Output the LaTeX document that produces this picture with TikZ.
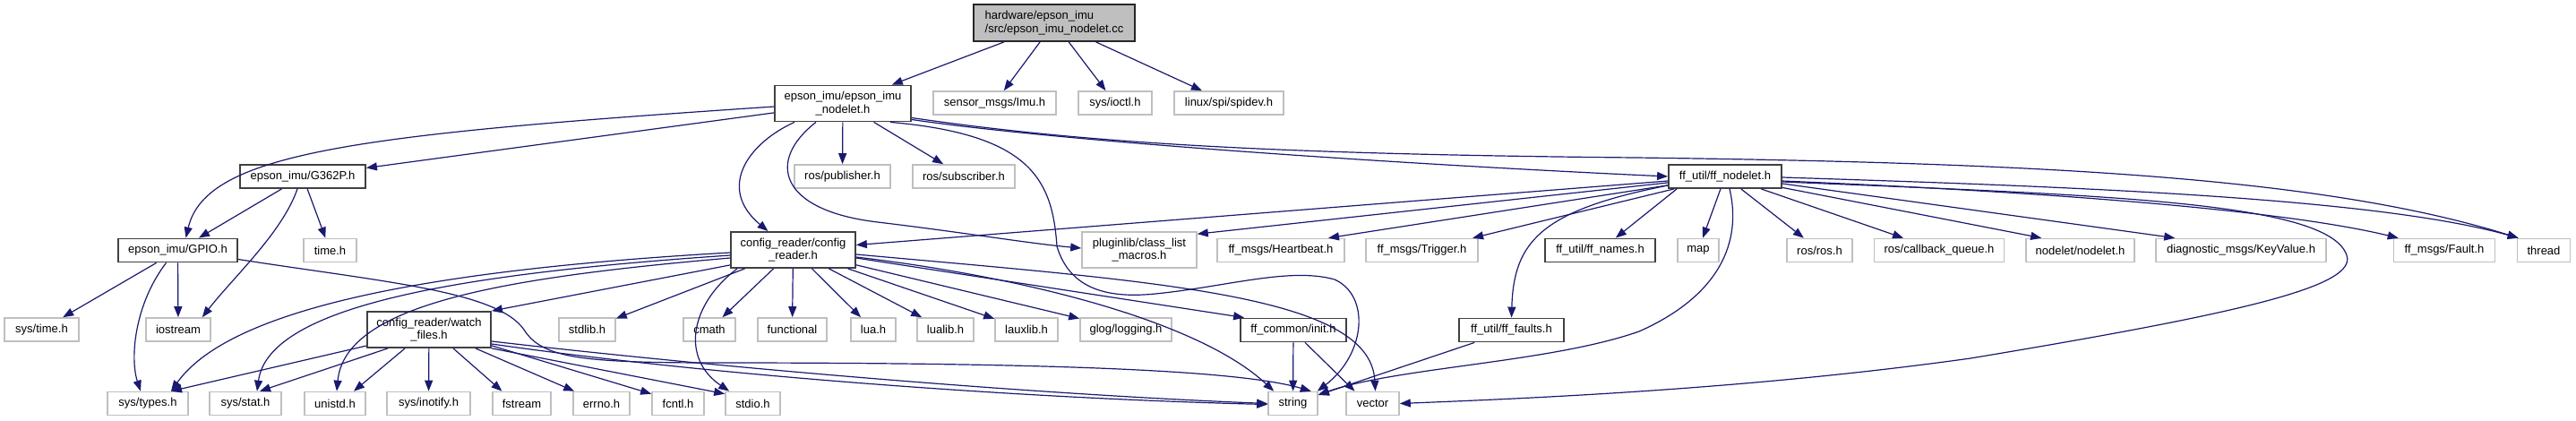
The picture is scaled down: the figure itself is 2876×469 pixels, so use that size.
\documentclass[tikz,border=0pt]{standalone}
\usepackage{fontspec}
\setmainfont{Liberation Sans}
\usetikzlibrary{arrows.meta,calc}
\definecolor{edgec}{HTML}{191970}
\definecolor{extc}{HTML}{BFBFBF}
\definecolor{docc}{HTML}{404040}
\begin{document}
\begin{tikzpicture}[x=1pt,y=-1pt,
  every node/.style={font=\fontsize{13}{14.5}\selectfont, inner sep=0pt, minimum height=26pt, align=center},
  ext/.style={draw=extc, line width=1.6pt, fill=white},
  doc/.style={draw=docc, line width=1.8pt, fill=white},
  rootbox/.style={draw=black!85, line width=1.8pt, fill=extc},
  bw/.style={minimum width=#1pt},
  tall/.style={minimum height=40pt},
  edge/.style={draw=edgec, line width=1.2pt, -{Triangle[length=12pt,width=9pt]}},
]
\useasboundingbox (0,0) rectangle (2876,469);
% row 1
\node[rootbox,bw=180,minimum height=41pt,align=left] (root) at (1177,25.5) {hardware/epson\_imu\\/src/epson\_imu\_nodelet.cc};
% row 2
\node[doc,bw=152,tall] (nodelet) at (941,115.5) {epson\_imu/epson\_imu\\\_nodelet.h};
\node[ext,bw=137] (imu) at (1110.5,115) {sensor\_msgs/Imu.h};
\node[ext,bw=82] (ioctl) at (1245,115) {sys/ioctl.h};
\node[ext,bw=122] (spidev) at (1372,115) {linux/spi/spidev.h};
% row 3
\node[doc,bw=140] (g362p) at (338,197) {epson\_imu/G362P.h};
\node[ext,bw=107] (pub) at (940.5,197) {ros/publisher.h};
\node[ext,bw=114] (sub) at (1076,197) {ros/subscriber.h};
\node[doc,bw=126] (ffnod) at (1926,197) {ff\_util/ff\_nodelet.h};
% row 4
\node[doc,bw=133] (gpio) at (198.5,279.5) {epson\_imu/GPIO.h};
\node[ext,bw=59] (timeh) at (368.5,279.5) {time.h};
\node[doc,bw=139,tall] (config) at (885.5,279) {config\_reader/config\\\_reader.h};
\node[ext,bw=128,tall] (plugin) at (1272,279) {pluginlib/class\_list\\\_macros.h};
\node[ext,bw=142] (heart) at (1430,279.5) {ff\_msgs/Heartbeat.h};
\node[ext,bw=125] (trig) at (1587.5,279.5) {ff\_msgs/Trigger.h};
\node[doc,bw=123] (names) at (1786.5,279.5) {ff\_util/ff\_names.h};
\node[ext,bw=46] (map) at (1896,279.5) {map};
\node[ext,bw=73] (rosh) at (2031.5,279.5) {ros/ros.h};
\node[ext,bw=145] (cbq) at (2165,279.5) {ros/callback\_queue.h};
\node[ext,bw=121] (nodeleth) at (2322.5,279.5) {nodelet/nodelet.h};
\node[ext,bw=190] (diag) at (2502,279.5) {diagnostic\_msgs/KeyValue.h};
\node[ext,bw=113] (fault) at (2729,279.5) {ff\_msgs/Fault.h};
\node[ext,bw=59] (thread) at (2840,279.5) {thread};
% row 5
\node[ext,bw=83] (systime) at (46.5,368) {sys/time.h};
\node[ext,bw=72] (iostream) at (199,368) {iostream};
\node[doc,bw=138,tall] (watch) at (479,368) {config\_reader/watch\\\_files.h};
\node[ext,bw=63] (stdlib) at (655.5,368) {stdlib.h};
\node[ext,bw=58] (cmath) at (792,368) {cmath};
\node[ext,bw=77] (functional) at (884.5,368) {functional};
\node[ext,bw=50] (lua) at (975,368) {lua.h};
\node[ext,bw=63] (lualib) at (1055.5,368) {lualib.h};
\node[ext,bw=70] (lauxlib) at (1146,368) {lauxlib.h};
\node[ext,bw=102] (glog) at (1257,368) {glog/logging.h};
\node[doc,bw=118] (ffcommon) at (1444,368.5) {ff\_common/init.h};
\node[doc,bw=117] (fffaults) at (1687.5,368.5) {ff\_util/ff\_faults.h};
% row 6
\node[ext,bw=90] (systypes) at (165,450.5) {sys/types.h};
\node[ext,bw=80] (sysstat) at (274,450.5) {sys/stat.h};
\node[ext,bw=68] (unistd) at (374,450.5) {unistd.h};
\node[ext,bw=93] (inotify) at (478.5,450.5) {sys/inotify.h};
\node[ext,bw=65] (fstream) at (582.5,450.5) {fstream};
\node[ext,bw=63] (errno) at (671.5,450.5) {errno.h};
\node[ext,bw=58] (fcntl) at (757,450.5) {fcntl.h};
\node[ext,bw=61] (stdio) at (840.5,450.5) {stdio.h};
\node[ext,bw=55] (string) at (1443.5,450.5) {string};
\node[ext,bw=59] (vector) at (1532.5,450.5) {vector};

% ---- edges: root
\draw[edge] (root) -- (nodelet);
\draw[edge] (root) -- (imu);
\draw[edge] (root) -- (ioctl);
\draw[edge] (root) -- (spidev);
% ---- nodelet
\draw[edge] (nodelet) -- (g362p);
\draw[edge] ($(nodelet.west)+(0,3.5)$) .. controls (400,150) and (230,170) .. ($(gpio.north)+(9,0)$);
\draw[edge] ($(nodelet.south)+(-54,0)$) .. controls (835,160) and (800,210) .. ($(config.north)+(-28,0)$);
\draw[edge] ($(nodelet.south)+(-30,0)$) .. controls (855,180) and (870,235) .. (980,248) .. controls (1080,260) and (1150,272) .. ($(plugin.west)+(0,-2)$);
\draw[edge] (nodelet) -- (pub);
\draw[edge] (nodelet) -- (sub);
\draw[edge] ($(nodelet.south east)+(-24,0)$) .. controls (1150,150) and (1175,200) .. (1180,275) .. controls (1195,325) and (1240,333) .. (1290,328) .. controls (1370,320) and (1440,298) .. (1490,312) .. controls (1530,330) and (1525,395) .. ($(string.north east)+(-1,0)$);
\draw[edge] ($(nodelet.east)+(0,18)$) .. controls (1200,160) and (1600,185) .. (ffnod.west);
\draw[edge] ($(nodelet.east)+(0,16)$) .. controls (1200,158) and (1400,172) .. (1826,176) .. controls (2300,182) and (2600,200) .. ($(thread.north west)+(2,0)$);
% ---- G362P
\draw[edge] (g362p) -- (gpio);
\draw[edge] (g362p) -- (timeh);
\draw[edge] ($(g362p.south)+(-6,0)$) .. controls (315,260) and (260,310) .. ($(iostream.north east)+(-10,0)$);
% ---- GPIO
\draw[edge] (gpio) -- (systime);
\draw[edge] (gpio) -- (iostream);
\draw[edge] ($(gpio.south)+(-13,0)$) .. controls (150,340) and (145,400) .. ($(systypes.north)+(-8,0)$);
\draw[edge] ($(gpio.east)+(0,10)$) .. controls (430,315) and (555,325) .. (585,368) .. controls (605,400) and (650,405) .. (800,405) .. controls (1150,405) and (1380,412) .. ($(string.north east)+(-8,0)$);
% ---- watch_files
\draw[edge] ($(watch.west)+(0,18)$) -- ($(systypes.north)+(26,0)$);
\draw[edge] ($(watch.south west)+(24,0)$) -- ($(sysstat.north)+(16,0)$);
\draw[edge] ($(watch.south west)+(43,0)$) -- ($(unistd.north)+(21,0)$);
\draw[edge] (watch) -- (inotify);
\draw[edge] ($(watch.south)+(27,0)$) -- ($(fstream.north)+(-22,0)$);
\draw[edge] ($(watch.south east)+(-18,0)$) -- ($(errno.north west)+(2,0)$);
\draw[edge] ($(watch.south east)+(0,-3)$) -- ($(fcntl.north west)+(0,3)$);
\draw[edge] ($(watch.south east)+(0,0)$) -- ($(stdio.north west)+(0,3)$);
\draw[edge] ($(watch.east)+(0,13)$) .. controls (800,410) and (1150,440) .. (string.west);
\draw[edge] ($(watch.east)+(0,16)$) .. controls (800,420) and (1150,445) .. ($(string.west)+(0,1)$);
% ---- config_reader
\draw[edge] ($(config.west)+(0,3)$) .. controls (500,300) and (260,340) .. ($(systypes.north)+(26,0)$);
\draw[edge] ($(config.west)+(0,6)$) .. controls (520,305) and (300,340) .. ($(sysstat.north)+(13,0)$);
\draw[edge] ($(config.west)+(0,9)$) .. controls (560,310) and (385,340) .. ($(unistd.north)+(2,0)$);
\draw[edge] ($(config.south west)+(0,-4)$) -- (watch.north east);
\draw[edge] (config) -- (stdlib);
\draw[edge] ($(config.south west)+(8,0)$) .. controls (770,340) and (760,400) .. ($(stdio.north west)+(5,0)$);
\draw[edge] (config) -- (cmath);
\draw[edge] (config) -- (functional);
\draw[edge] (config) -- (lua);
\draw[edge] (config) -- (lualib);
\draw[edge] (config) -- (lauxlib);
\draw[edge] (config) -- (glog);
\draw[edge] ($(config.east)+(0,9)$) -- ($(ffcommon.north west)+(5,0)$);
\draw[edge] ($(config.east)+(0,8)$) .. controls (1150,310) and (1340,360) .. ($(string.north west)+(7,0)$);
\draw[edge] ($(config.east)+(0,5)$) .. controls (1300,315) and (1530,330) .. ($(vector.north)+(3,0)$);
% ---- ff_common, ff_faults
\draw[edge] (ffcommon) -- (string);
\draw[edge] ($(ffcommon.south)+(13,0)$) -- ($(vector.north)+(-20,0)$);
\draw[edge] (fffaults) -- (string);
% ---- ff_nodelet
\draw[edge] (ffnod) -- (config);
\draw[edge] (ffnod) -- ($(plugin.north east)+(0,3)$);
\draw[edge] (ffnod) -- ($(heart.north)+(53,0)$);
\draw[edge] (ffnod) -- (trig);
\draw[edge] ($(ffnod.south west)+(10,0)$) -- (names);
\draw[edge] ($(ffnod.west)+(0,10)$) .. controls (1720,235) and (1690,270) .. (fffaults.north);
\draw[edge] (ffnod) -- (map);
\draw[edge] ($(ffnod.south)+(5,0)$) .. controls (1945,270) and (1920,330) .. (1830,370) .. controls (1730,405) and (1560,410) .. ($(string.north east)+(0,4)$);
\draw[edge] (ffnod) -- (rosh);
\draw[edge] (ffnod) -- (cbq);
\draw[edge] (ffnod) -- ($(nodeleth.north west)+(18,0)$);
\draw[edge] ($(ffnod.east)+(0,8)$) -- ($(diag.north west)+(22,0)$);
\draw[edge] ($(ffnod.east)+(0,5)$) .. controls (2300,215) and (2550,235) .. ($(fault.north west)+(6,0)$);
\draw[edge] ($(ffnod.east)+(0,1)$) .. controls (2300,208) and (2650,220) .. ($(thread.north west)+(2,0)$);
\draw[edge] ($(ffnod.east)+(0,6)$) .. controls (2350,218) and (2600,225) .. (2620,285) .. controls (2632,320) and (2500,350) .. (2200,400) .. controls (1950,435) and (1700,445) .. (vector.east);
\end{tikzpicture}
\end{document}
